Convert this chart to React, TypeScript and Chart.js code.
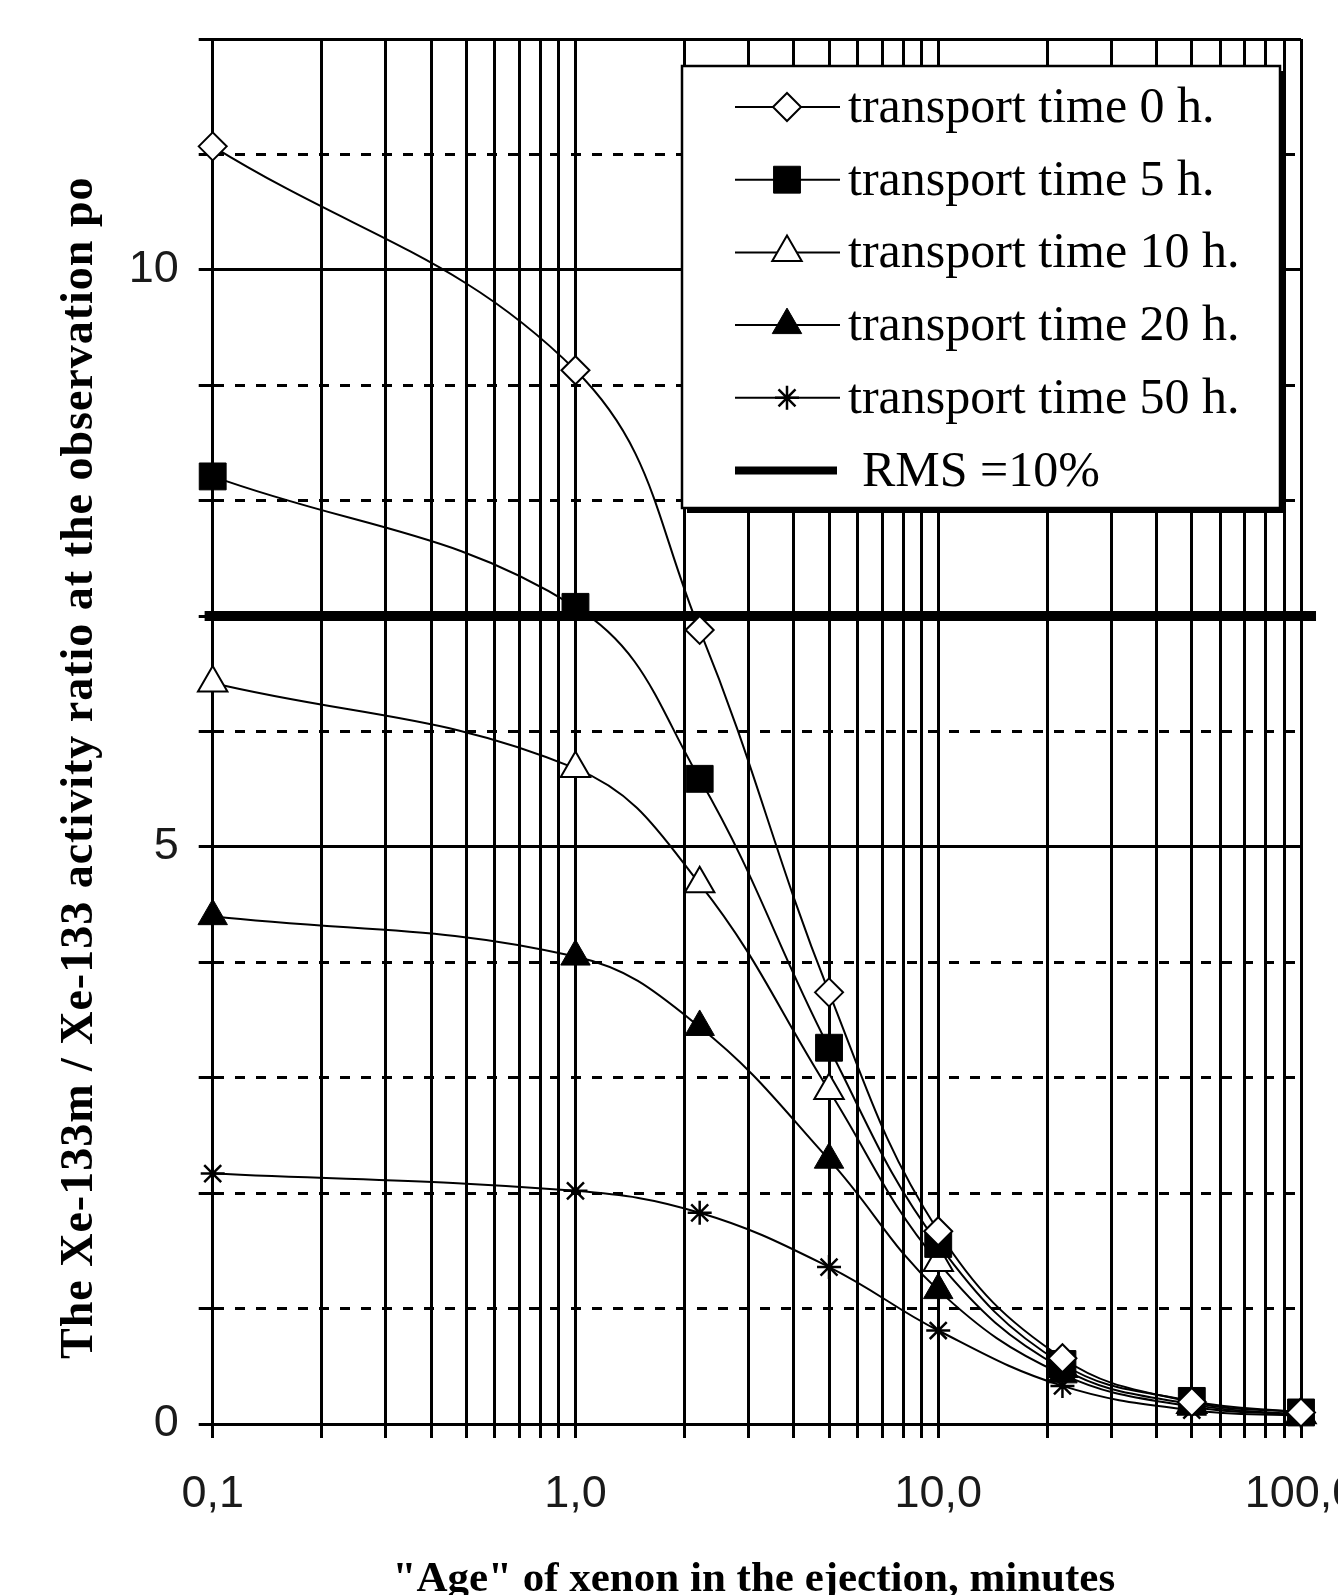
import { useEffect, useRef } from 'react';
import { Chart, registerables } from 'chart.js';
import { drawPoint } from 'chart.js/helpers';

Chart.register(...registerables);

// ---------- data ----------
const AGE_MINUTES = [0.1, 1, 2.2, 5, 10, 22, 50, 100];
const SERIES_LABELS = [
  'transport time 0 h.',
  'transport time 5 h.',
  'transport time 10 h.',
  'transport time 20 h.',
  'transport time 50 h.',
];
const RATIO_0H = [11.07, 9.13, 6.88, 3.74, 1.67, 0.57, 0.19, 0.1];
const RATIO_5H = [8.21, 7.08, 5.59, 3.26, 1.56, 0.52, 0.2, 0.1];
const RATIO_10H = [6.42, 5.68, 4.68, 2.89, 1.4, 0.48, 0.17, 0.08];
const RATIO_20H = [4.4, 4.05, 3.44, 2.29, 1.16, 0.43, 0.15, 0.08];
const RATIO_50H = [2.17, 2.02, 1.83, 1.36, 0.81, 0.33, 0.12, 0.07];
const RMS_LABEL = 'RMS =10%';
const RMS_LEVEL = 7;
const RMS_X = [0.095, 110];

const X_GRID = [
  0.1, 0.2, 0.3, 0.4, 0.5, 0.6, 0.7, 0.8, 0.9,
  1, 2, 3, 4, 5, 6, 7, 8, 9,
  10, 20, 30, 40, 50, 60, 70, 80, 90, 100,
];
const X_TICK_VALUES = [0.1, 1, 10, 100];
const X_TICK_LABELS = ['0,1', '1,0', '10,0', '100,0'];
const Y_MIN = 0;
const Y_MAX = 12;
const Y_LABELED = [0, 5, 10];
const Y_SOLID = [0, 5, 10, 12];
const X_TITLE = '"Age" of xenon in the ejection, minutes';
const Y_TITLE = 'The Xe-133m / Xe-133 activity ratio at the observation po';

// ---------- styles ----------
const W = 1370;
const H = 1620;
const AREA_LEFT = 204.7;
const AREA_TOP = 31;
const AREA_BOTTOM = 1416;
const AREA_RIGHT = 1293;

const MARKERS = [
  { pointStyle: 'rectRot', radius: 14, fill: '#ffffff', borderWidth: 2 },
  { pointStyle: 'rect', radius: 19, fill: '#000000', borderWidth: 1 },
  { pointStyle: 'triangle', radius: 17, fill: '#ffffff', borderWidth: 2 },
  { pointStyle: 'triangle', radius: 17, fill: '#000000', borderWidth: 1 },
  { pointStyle: 'star', radius: 12, fill: '#000000', borderWidth: 2.5 },
];

const SERIES_VALUES = [RATIO_0H, RATIO_5H, RATIO_10H, RATIO_20H, RATIO_50H];

const legendPlugin = {
  id: 'boxLegend',
  afterDatasetsDraw(chart: any) {
    const ctx: CanvasRenderingContext2D = chart.ctx;
    const a = chart.chartArea;
    const bx = a.left + 469.3;
    const by = 58;
    const bw = 598;
    const bh = 442;
    ctx.save();
    ctx.fillStyle = '#000';
    ctx.fillRect(bx + 5, by + 5, bw, bh);
    ctx.fillStyle = '#fff';
    ctx.fillRect(bx, by, bw, bh);
    ctx.lineWidth = 2.5;
    ctx.strokeStyle = '#000';
    ctx.strokeRect(bx, by, bw, bh);

    const lineX1 = bx + 53;
    const lineX2 = bx + 158;
    const markX = bx + 105;
    const textX = bx + 166;
    ctx.font = '50px "Liberation Serif", "Times New Roman", serif';
    ctx.textBaseline = 'alphabetic';
    ctx.textAlign = 'left';
    for (let i = 0; i < 6; i++) {
      const ry = by + 41 + i * 72.7;
      ctx.strokeStyle = '#000';
      ctx.setLineDash([]);
      if (i < 5) {
        ctx.lineWidth = 2;
        ctx.beginPath();
        ctx.moveTo(lineX1, ry);
        ctx.lineTo(lineX2, ry);
        ctx.stroke();
        const m = MARKERS[i];
        ctx.fillStyle = m.fill;
        ctx.lineWidth = m.borderWidth;
        drawPoint(ctx, { pointStyle: m.pointStyle as any, radius: m.radius, borderWidth: m.borderWidth, rotation: 0 }, markX, ry);
        ctx.fillStyle = '#000';
        ctx.fillText(SERIES_LABELS[i], textX, ry + 15);
      } else {
        ctx.lineWidth = 8;
        ctx.beginPath();
        ctx.moveTo(lineX1, ry);
        ctx.lineTo(lineX1 + 102, ry);
        ctx.stroke();
        ctx.fillStyle = '#000';
        ctx.fillText(RMS_LABEL, textX + 14, ry + 15);
      }
    }
    ctx.restore();
  },
  afterDraw(chart: any) {
    const ctx: CanvasRenderingContext2D = chart.ctx;
    const a = chart.chartArea;
    ctx.save();
    ctx.fillStyle = '#000';
    // x title
    ctx.font = 'bold 43px "Liberation Serif", "Times New Roman", serif';
    ctx.textAlign = 'center';
    ctx.textBaseline = 'alphabetic';
    ctx.fillText(X_TITLE, (a.left + a.right) / 2 - 3, 1583);
    // y title
    ctx.translate(84, 1351);
    ctx.rotate(-Math.PI / 2);
    ctx.textAlign = 'left';
    ctx.font = 'bold 46px "Liberation Serif", "Times New Roman", serif';
    try {
      (ctx as any).letterSpacing = '1px';
    } catch (e) {
      /* ignore */
    }
    ctx.fillText(Y_TITLE, 0, 0);
    ctx.restore();
  },
};

export default function App() {
  const ref = useRef<HTMLCanvasElement>(null);

  useEffect(() => {
    const canvas = ref.current;
    if (!canvas) return;

    const datasets: any[] = SERIES_LABELS.map((label, i) => ({
      label,
      data: AGE_MINUTES.map((x, j) => ({ x, y: SERIES_VALUES[i][j] })),
      borderColor: '#000',
      borderWidth: 2,
      pointStyle: MARKERS[i].pointStyle,
      pointRadius: MARKERS[i].radius,
      pointBackgroundColor: MARKERS[i].fill,
      pointBorderColor: '#000',
      pointBorderWidth: MARKERS[i].borderWidth,
      tension: 0.4,
      clip: false,
    }));
    datasets.push({
      label: RMS_LABEL,
      data: RMS_X.map((x) => ({ x, y: RMS_LEVEL })),
      borderColor: '#000',
      borderWidth: 10,
      borderCapStyle: 'butt',
      pointRadius: 0,
      tension: 0,
      clip: false,
    });

    const tickFont = { family: '"Liberation Sans", Arial, sans-serif', size: 45 };

    const chart = new Chart(canvas, {
      type: 'line',
      data: { datasets },
      options: {
        animation: false,
        responsive: false,
        devicePixelRatio: 1,
        layout: { padding: { top: AREA_TOP, right: W - AREA_RIGHT, left: 0, bottom: 0 } },
        plugins: { legend: { display: false }, tooltip: { enabled: false } },
        scales: {
          x: {
            type: 'logarithmic',
            min: 0.1,
            max: 100,
            afterBuildTicks: (s: any) => {
              s.ticks = X_GRID.map((v) => ({ value: v }));
            },
            afterFit: (s: any) => {
              s.height = H - AREA_BOTTOM;
              s.paddingLeft = 0;
              s.paddingRight = 0;
              s.paddingTop = 0;
              s.paddingBottom = 0;
            },
            ticks: {
              autoSkip: false,
              maxRotation: 0,
              minRotation: 0,
              padding: 30,
              color: '#1a1a1a',
              font: tickFont,
              callback: (v: any) => {
                const n = Number(v);
                const i = X_TICK_VALUES.findIndex((t) => Math.abs(t - n) < t * 1e-6);
                return i >= 0 ? X_TICK_LABELS[i] : '';
              },
            },
            grid: { color: '#000', lineWidth: 3, tickLength: 14, tickColor: '#000' },
            border: { color: '#000', width: 3 },
          },
          y: {
            type: 'linear',
            min: Y_MIN,
            max: Y_MAX,
            afterFit: (s: any) => {
              s.width = AREA_LEFT;
              s.paddingLeft = 0;
              s.paddingRight = 0;
              s.paddingTop = 0;
              s.paddingBottom = 0;
            },
            ticks: {
              stepSize: 1,
              autoSkip: false,
              padding: 20,
              color: '#1a1a1a',
              font: tickFont,
              callback: (v: any) => (Y_LABELED.includes(Number(v)) ? String(v) : ''),
            },
            grid: { color: '#000', lineWidth: 3, tickLength: 14, tickColor: '#000' },
            border: {
              color: '#000',
              width: 3,
              dash: (c: any) =>
                c && c.tick && !Y_SOLID.includes(Number(c.tick.value)) ? [10, 11] : [],
            },
          },
        },
      } as any,
      plugins: [legendPlugin],
    });
    return () => chart.destroy();
  }, []);

  return (
    <div
      style={{
        position: 'fixed',
        left: 0,
        top: 0,
        width: 1338,
        height: 1595,
        overflow: 'hidden',
        background: '#fff',
      }}
    >
      <canvas
        ref={ref}
        width={W}
        height={H}
        style={{ position: 'absolute', left: 8, top: 8, width: W, height: H }}
      />
    </div>
  );
}
